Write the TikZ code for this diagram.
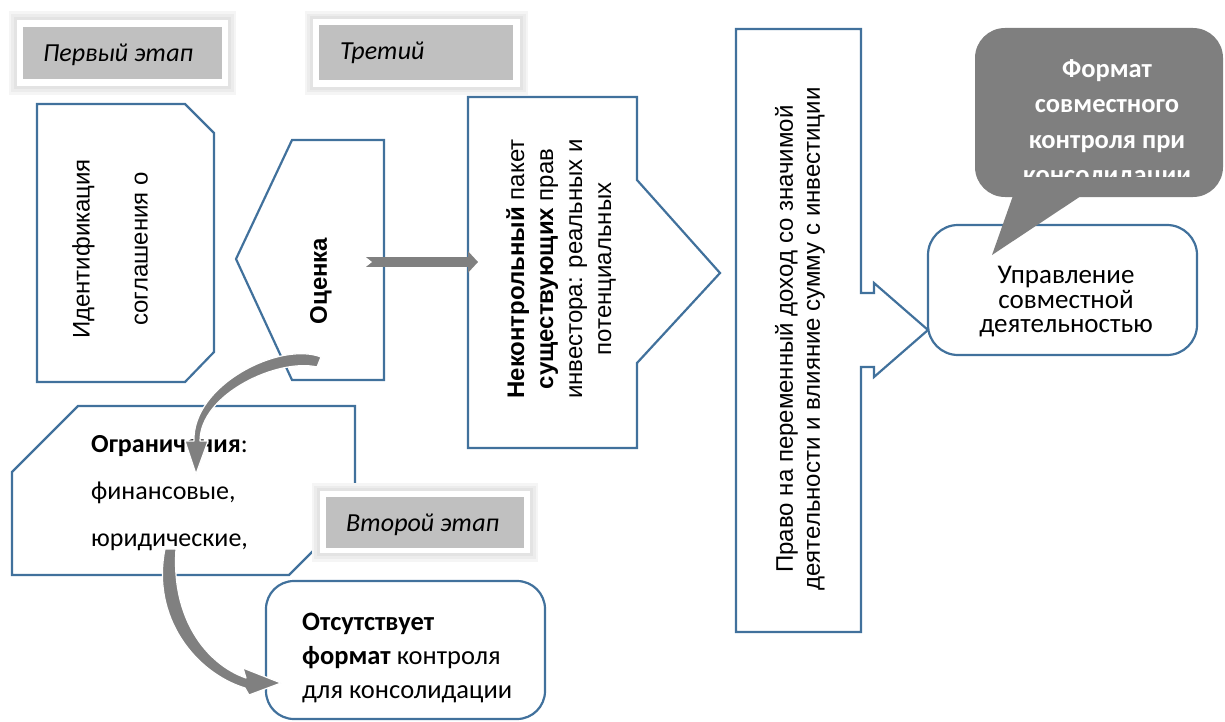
\documentclass[tikz,border=0pt]{standalone}
\usepackage{fontspec}
\setmainfont{Carlito}
\newfontfamily\arialfont{Liberation Sans}
\usetikzlibrary{arrows.meta}
\definecolor{frameblue}{RGB}{65,113,156}
\definecolor{stagegray}{RGB}{192,192,192}
\definecolor{arrowgray}{RGB}{128,128,128}
\definecolor{bubblegray}{RGB}{127,127,127}
\begin{document}
\begin{tikzpicture}[x=1pt, y=-1pt, line join=miter,
	boxline/.style={draw=frameblue, line width=2.2pt, fill=white},
	glowout/.style={fill=gray!8},
	glowmid/.style={fill=gray!15},
	glowin/.style={fill=gray!22},
	stagetext/.style={font=\itshape\fontsize{26}{30}\selectfont, inner sep=0pt, anchor=base west},
	curvearrow/.style={fill=arrowgray, draw=white, line width=1.2pt, line join=round},
	blockarrow/.style={draw=arrowgray, line width=10pt, -{Triangle[length=10pt, width=21pt]}}]
	\useasboundingbox (0,0) rectangle (1225,722);
	% stage labels
	\fill[glowout] (9,11) rectangle (236,95);
	\fill[glowmid] (11,14) rectangle (234,92);
	\fill[glowin] (14,17) rectangle (231,89);
	\fill[white] (17,20) rectangle (228,86);
	\fill[stagegray] (23,27) rectangle (222,79);
	\node[stagetext] (first) at (43,62) {Первый этап};
	\fill[glowout] (305,11) rectangle (528,95);
	\fill[glowmid] (307,14) rectangle (526,92);
	\fill[glowin] (310,16) rectangle (523,90);
	\fill[white] (313,19) rectangle (520,87);
	\fill[stagegray] (319,25) rectangle (513,80);
	\node[stagetext] (third) at (340,60) {Третий};
	% left column
	\coordinate (I1) at (37,104);\coordinate (I2) at (185,104);\coordinate (I3) at (214,133);
	\coordinate (I4) at (214,352);\coordinate (I5) at (185,382);\coordinate (I6) at (37,382);
	\draw[boxline] (I1)--(I2)--(I3)--(I4)--(I5)--(I6)--cycle;
	\node[rotate=90, align=center, inner sep=0pt, font=\arialfont\fontsize{24}{58}\selectfont] (ident) at (110,249) {Идентификация\\соглашения о};
	\coordinate (E1) at (292,140);\coordinate (E2) at (384,140);\coordinate (E3) at (384,380);
	\coordinate (E4) at (292,380);\coordinate (E5) at (236,259);
	\draw[boxline] (E1)--(E2)--(E3)--(E4)--(E5)--cycle;
	\node[rotate=90, inner sep=0pt, font=\arialfont\bfseries\fontsize{24}{28}\selectfont] (eval) at (321,281) {Оценка};
	% middle column
	\coordinate (N1) at (468,97);\coordinate (N2) at (637,97);\coordinate (N3) at (637,180);
	\coordinate (N4) at (720,273);\coordinate (N5) at (637,363);\coordinate (N6) at (637,448);
	\coordinate (N7) at (468,448);
	\draw[boxline] (N1)--(N2)--(N3)--(N4)--(N5)--(N6)--(N7)--cycle;
	\node[rotate=90, align=center, inner sep=0pt, font=\arialfont\fontsize{24}{29}\selectfont] (minority) at (561,269) {\textbf{Неконтрольный} пакет\\\textbf{существующих} прав\\инвестора: реальных и\\потенциальных};
	\draw[boxline] (736,29)--(861,29)--(861,293)--(874,293)--(874,283)--(928,330)--(874,377)--(874,367)--(861,367)--(861,632)--(736,632)--cycle;
	\node[rotate=90, align=center, inner sep=0pt, font=\arialfont\fontsize{24}{27}\selectfont] (income) at (800,339) {Право на переменный доход со значимой\\деятельности и влияние сумму с инвестиции};
	% right column
	\draw[boxline, rounded corners=30pt] (928,225) rectangle (1197,355);
	\node[align=center, inner sep=0pt, font=\fontsize{27}{24.5}\selectfont] (manage) at (1066,302) {Управление\\совместной\\деятельностью};
	\fill[bubblegray, rounded corners=30pt] (975,28) rectangle (1223,197);
	\fill[bubblegray] (1015,190)--(1090,190)--(992,255)--cycle;
	\begin{scope}
		\clip (975,28) rectangle (1223,177);
		\node[anchor=north, align=center, inner sep=0pt, text=white, font=\bfseries\fontsize{26.5}{35.5}\selectfont] (jointfmt) at (1107,59) {Формат\\совместного\\контроля при\\консолидации};
	\end{scope}
	% lower left
	\draw[boxline] (78,406)--(355,406)--(355,509)--(289,575)--(12,575)--(12,472)--cycle;
	\node[anchor=north west, align=left, inner sep=0pt, font=\fontsize{26}{47}\selectfont] (limits) at (91,435) {\textbf{Ограничения}:\\финансовые,\\юридические,};
	\fill[glowout] (312,483) rectangle (538,562);
	\fill[glowmid] (314,486) rectangle (536,559);
	\fill[glowin] (317,488) rectangle (533,556);
	\fill[white] (320,491) rectangle (530,553);
	\fill[stagegray] (326,497) rectangle (524,548);
	\node[stagetext] (second) at (346,531) {Второй этап};
	\draw[boxline, rounded corners=28pt] (266,581) rectangle (545,719);
	\node[anchor=north west, align=left, inner sep=0pt, font=\fontsize{26.5}{34}\selectfont] (absent) at (302,613) {\textbf{Отсутствует}\\\textbf{формат} контроля\\для консолидации};
	% arrows
	\coordinate (evtail) at (365,262);\coordinate (mintip) at (478,262);
	\draw[blockarrow] (evtail)--(mintip);
	\fill[white] (evtail) ++(0,-5.5) -- ++(7,5.5) -- ++(-7,5.5) -- cycle;
	\coordinate (c1tip) at (196,474);\coordinate (c2tip) at (281,683);
	\filldraw[curvearrow] (321,357) .. controls (280,341) and (192,385) .. (194,441)--(185,441)--(c1tip)--(208,441)--(200,441) .. controls (200,394) and (278,358) .. (317,367)--cycle;
	\filldraw[curvearrow] (165,549) .. controls (151,618) and (196,673) .. (245,688)--(249,695)--(c2tip)--(243,668)--(246,678) .. controls (206,664) and (171,618) .. (176,549)--cycle;
\end{tikzpicture}
\end{document}
